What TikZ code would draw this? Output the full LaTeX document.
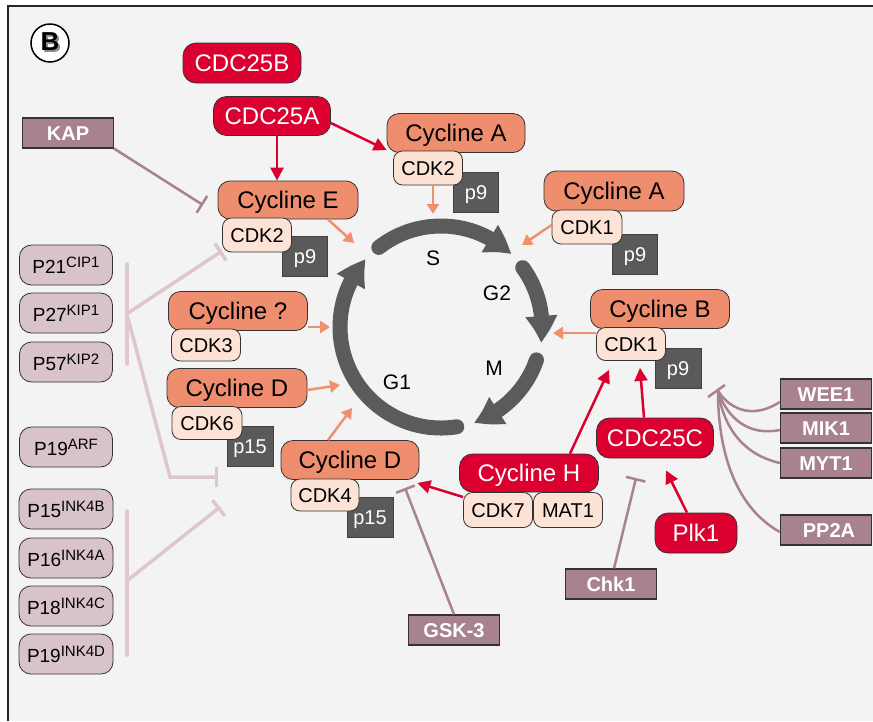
\documentclass[tikz,border=0pt]{standalone}
\usepackage{fontspec}
\setmainfont{Liberation Sans}
\usetikzlibrary{arrows.meta,bending,calc}
\definecolor{bggray}{HTML}{F3F3F3}
\definecolor{cred}{HTML}{DC0030}
\definecolor{salmon}{HTML}{EF8D6F}
\definecolor{peach}{HTML}{FDE2D6}
\definecolor{dgray}{HTML}{5A5A5A}
\definecolor{mauve}{HTML}{A8838F}
\definecolor{lpink}{HTML}{D9C3CA}
\definecolor{lline}{HTML}{DDC6CD}
\definecolor{sarr}{HTML}{F0906F}
\definecolor{cycgray}{HTML}{5B5B5B}
\newcommand{\fsz}[1]{\fontsize{#1}{#1}\selectfont}
\newcommand{\supx}[1]{\raisebox{6pt}{\fsz{15}#1}}
\tikzset{
  cycbox/.style={draw=black!80, line width=0.8pt, fill=salmon, rounded corners=12pt, minimum width=139pt, minimum height=39pt, inner sep=0pt, font=\fsz{24}, text height=17pt, text depth=0pt},
  cdkbox/.style={draw=black!80, line width=0.8pt, fill=peach, rounded corners=9pt, minimum width=69pt, minimum height=34pt, inner sep=0pt, font=\fsz{20}, text height=14pt, text depth=0pt},
  pbox/.style={draw=black!75, line width=0.8pt, fill=dgray, text=white, minimum width=45pt, minimum height=40pt, inner sep=0pt, font=\fsz{20}, text height=14pt, text depth=0pt},
  redbox/.style={draw=black!80, line width=0.8pt, fill=cred, text=white, rounded corners=13pt, minimum height=40pt, inner sep=0pt, font=\fsz{24}, text height=17pt, text depth=0pt},
  mauvebox/.style={draw=black!80, line width=1.2pt, fill=mauve, text=white, minimum width=91pt, minimum height=30pt, inner sep=0pt, font=\bfseries\fsz{20}, text height=14pt, text depth=0pt},
  inhbox/.style={draw=black!80, line width=0.8pt, fill=lpink, rounded corners=12pt, minimum width=93pt, minimum height=40pt, inner sep=0pt, font=\fsz{19}, text height=17pt, text depth=0pt},
  redarr/.style={draw=cred, line width=2.5pt, -{Triangle[width=13pt,length=13pt]}},
  salarr/.style={draw=sarr, line width=2.5pt, -{Triangle[width=12pt,length=10pt]}},
  mline/.style={draw=mauve, line width=2.5pt},
  minh/.style={mline, -{Bar[width=20pt]}},
  lline/.style={draw=lline, line width=3.5pt, line cap=round},
  linh/.style={draw=lline, line width=3.5pt, -{Bar[width=20pt]}},
  cycarc/.style={draw=cycgray, line width=15pt, line cap=round, -{Triangle[width=30pt,length=27pt,bend]}},
  phase/.style={font=\fsz{21}, inner sep=0pt}
}
\begin{document}
\begin{tikzpicture}[x=1pt,y=-1pt]
\useasboundingbox (0,0) rectangle (873,721);
\fill[bggray] (8,6) rectangle (873,721);
\draw[line width=1.5pt, black!85] (8,721) -- (8,6) -- (873,6);

% label B (with its grey shadow in the same text)
\node[circle, draw, line width=1.5pt, fill=white, minimum size=38pt, inner sep=0pt, font=\bfseries\fsz{26}] (blab) at (50,43)
  {\rlap{\hspace{2pt}\raisebox{-2pt}{\textcolor{black!45}{B}}}B};

% inhibitor bracket lines (left)
\coordinate (g1a) at (127,264);
\coordinate (g1b) at (127,364);
\coordinate (g1m) at (128,313);
\coordinate (g1n) at (128,318);
\coordinate (g1k) at (170,477);
\coordinate (t1) at (222,251);
\coordinate (t2) at (218,477);
\draw[lline] (g1a) -- (g1b);
\draw[linh] (g1m) -- (t1);
\draw[linh] (g1n) -- (g1k) -- (t2);
\coordinate (g2a) at (127,511);
\coordinate (g2b) at (127,655);
\coordinate (g2m) at (128,580);
\coordinate (t3) at (220,507);
\draw[lline] (g2a) -- (g2b);
\draw[linh] (g2m) -- (t3);

% cell cycle
\coordinate (C) at (441,327);
\draw[cycarc] ($(C)+(128:101pt)$) arc[start angle=128, end angle=46, radius=101pt];
\draw[cycarc] ($(C)+(36:101pt)$) arc[start angle=36, end angle=-9, radius=101pt];
\draw[cycarc] ($(C)+(-19:101pt)$) arc[start angle=-19, end angle=-71, radius=101pt];
\draw[cycarc] ($(C)+(-81:101pt)$) arc[start angle=-81, end angle=-222, radius=101pt];
\node[phase] (S) at (433,258) {S};
\node[phase] (G2) at (497,293) {G2};
\node[phase] (M) at (494,368) {M};
\node[phase] (G1) at (397,382) {G1};

% top regulators
\node[redbox, minimum width=118pt] (b25) at (242,63) {CDC25B};
\node[redbox, minimum width=117pt, minimum height=39pt] (a25) at (272,116) {CDC25A};
\node[mauvebox] (kap) at (68,133) {KAP};

% complexes
\node[pbox] (p9E) at (305,256) {p9};
\node[cycbox, minimum width=140pt, minimum height=38pt] (cycE) at (288,200) {Cycline E};
\node[cdkbox] (cdkE) at (257,235) {CDK2};

\node[pbox] (p9A) at (476,192) {p9};
\node[cycbox, minimum width=138pt] (cycA) at (456,133) {Cycline A};
\node[cdkbox] (cdkA) at (428,168) {CDK2};

\node[pbox] (p9A1) at (635,254) {p9};
\node[cycbox, minimum width=140pt, minimum height=40pt] (cycA1) at (614,191) {Cycline A};
\node[cdkbox, minimum width=70pt] (cdkA1) at (587,227) {CDK1};

\node[pbox, minimum width=46pt] (p9B) at (678,368) {p9};
\node[cycbox] (cycB) at (660,309) {Cycline B};
\node[cdkbox, minimum height=33pt] (cdkB) at (631,344) {CDK1};

\node[cycbox] (cycQ) at (238,311) {Cycline ?};
\node[cdkbox, minimum height=32pt] (cdk3) at (206,345) {CDK3};

\node[pbox, minimum width=46pt] (p15L) at (250,446) {p15};
\node[cycbox, minimum width=140pt] (cycDl) at (237,388) {Cycline D};
\node[cdkbox, minimum width=70pt, minimum height=33pt] (cdk6) at (207,423) {CDK6};

\node[pbox, minimum width=46pt] (p15B) at (370,517) {p15};
\node[cycbox, minimum width=138pt] (cycDb) at (350,460) {Cycline D};
\node[cdkbox, minimum width=68pt, minimum height=32pt] (cdk4) at (325,495) {CDK4};

\node[redbox, minimum width=139pt, minimum height=38pt] (cycH) at (529,473) {Cycline H};
\node[cdkbox, minimum height=35pt] (cdk7) at (498,510) {CDK7};
\node[cdkbox, minimum height=35pt] (mat1) at (568,510) {MAT1};

\node[redbox, minimum width=117pt] (c25) at (655,438) {CDC25C};
\node[redbox, minimum width=82pt] (plk) at (696,533) {Plk1};

\node[mauvebox] (gsk) at (454,630) {GSK-3};
\node[mauvebox] (chk) at (611,584) {Chk1};
\node[mauvebox] (wee) at (826,394) {WEE1};
\node[mauvebox] (mik) at (826,428) {MIK1};
\node[mauvebox] (myt) at (826,463) {MYT1};
\node[mauvebox] (pp2a) at (826,530) {\hspace{6pt}PP2A};

% left inhibitors
\node[inhbox] (p21) at (66,265) {P21\supx{CIP1}};
\node[inhbox] (p27) at (66,313) {P27\supx{KIP1}};
\node[inhbox] (p57) at (66,362) {P57\supx{KIP2}};
\node[inhbox] (p19a) at (66,447) {P19\supx{ARF}};
\node[inhbox, minimum width=94pt] (p15) at (66,509) {P15\supx{INK4B}};
\node[inhbox, minimum width=94pt] (p16) at (66,558) {P16\supx{INK4A}};
\node[inhbox, minimum width=94pt] (p18) at (66,606) {P18\supx{INK4C}};
\node[inhbox, minimum width=94pt] (p19d) at (66,654) {P19\supx{INK4D}};

% red activation arrows
\draw[redarr] ([xshift=5pt]a25.south) -- ([xshift=-11pt]cycE.north);
\draw[redarr] ([yshift=-7pt]a25.east) -- ([yshift=-17pt]cycA.west);
\draw[redarr] ([xshift=41pt]cycH.north) -- ([xshift=-22pt,yshift=-9pt]cdkB.south);
\draw[redarr] ([xshift=-11pt]c25.north) -- ([xshift=9pt,yshift=-7pt]cdkB.south);
\draw[redarr] ([xshift=-9pt]plk.north) -- ([xshift=11pt,yshift=-12pt]c25.south);
\draw[redarr] ([yshift=13pt]cdk7.west) -- ([xshift=-2pt,yshift=-23pt]cycDb.east);

% salmon arrows into the cycle
\coordinate (sE) at (354,243);
\coordinate (sA) at (433,214);
\coordinate (sA1) at (522,245);
\coordinate (sB) at (553,333);
\coordinate (sQ) at (330,327);
\coordinate (sDl) at (340,385);
\coordinate (sDb) at (352,408);
\draw[salarr] ([xshift=40pt]cycE.south) -- (sE);
\draw[salarr] ([xshift=5pt]cdkA.south) -- (sA);
\draw[salarr] ([yshift=2pt]cdkA1.west) -- (sA1);
\draw[salarr] ([yshift=11pt]cdkB.west) -- (sB);
\draw[salarr] ([yshift=-16pt]cycQ.east) -- (sQ);
\draw[salarr] ([yshift=-2pt]cycDl.east) -- (sDl);
\draw[salarr] ([xshift=-22pt]cycDb.north) -- (sDb);

% mauve inhibitions
\coordinate (tK) at (203,205);
\coordinate (tG) at (405,488);
\coordinate (tC) at (636,478);
\draw[minh] (kap.south east) -- (tK);
\draw[minh] (gsk.north) -- (tG);
\draw[minh] ([xshift=3pt]chk.north) -- (tC);
\coordinate (tW) at (718,391);
\draw[mline] ([yshift=-8pt]wee.west) .. controls (755,418) and (732,412) .. (tW);
\draw[mline] ([yshift=-2pt]mik.west) .. controls (750,436) and (728,420) .. (tW);
\draw[mline] (myt.west) .. controls (745,455) and (724,430) .. (tW);
\draw[mline] ([yshift=-2pt]pp2a.west) .. controls (740,510) and (718,460) .. (tW);
\coordinate (tWa) at (708,397);
\coordinate (tWb) at (725,385);
\draw[mline] (tWa) -- (tWb);
\end{tikzpicture}
\end{document}
